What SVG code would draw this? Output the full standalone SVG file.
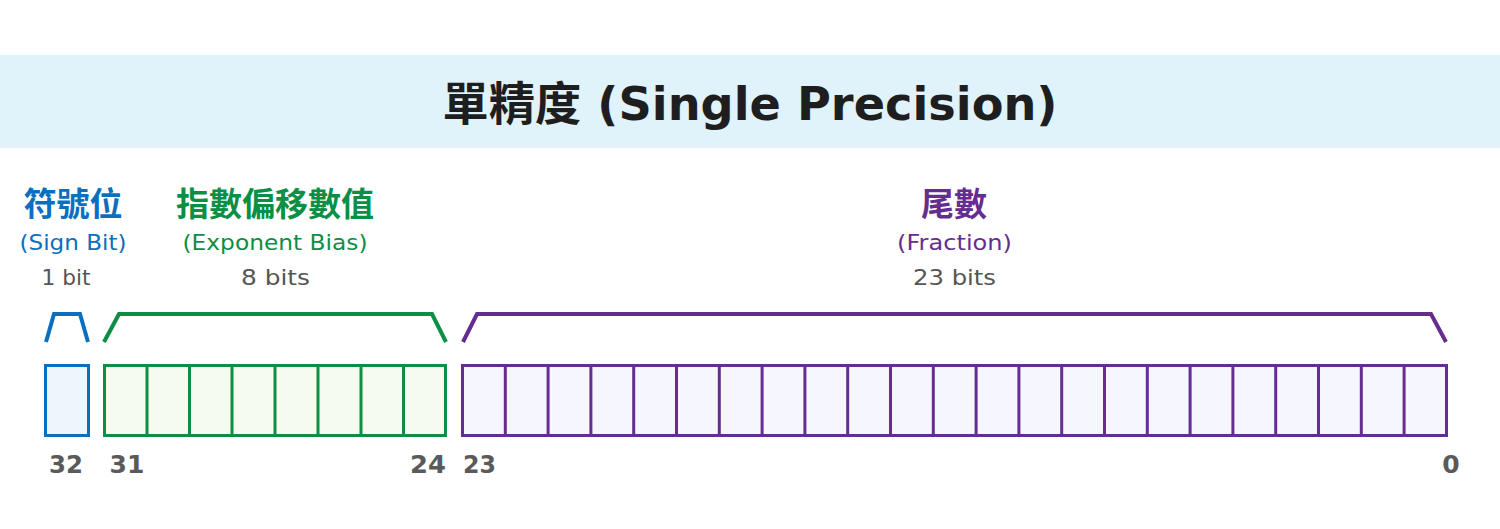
<svg xmlns="http://www.w3.org/2000/svg" width="1500" height="529" viewBox="0 0 1500 529">
<style>
text{font-family:"DejaVu Sans","Noto Sans CJK TC",sans-serif;text-anchor:middle}
.title{font-size:46px;font-weight:700;fill:#1e1e1e}
.zh{font-family:"Noto Sans CJK TC",sans-serif;font-size:33px;font-weight:700}
.en{font-size:21px}
.bits{font-size:21px;fill:#555}
.num{font-size:25px;font-weight:700;fill:#5a5a5a}
.blue{fill:#0b6fbf}.green{fill:#0a8f45}.purple{fill:#662d91}
.br{fill:none;stroke-width:4;stroke-linejoin:miter}
.cell{stroke-width:3}
</style>
<rect x="0" y="0" width="1500" height="529" fill="#fff"/>
<rect x="0" y="55" width="1500" height="93" fill="#e0f2fa"/>
<text class="title" x="750" y="120" textLength="615" lengthAdjust="spacingAndGlyphs">單精度 (Single Precision)</text>

<g id="sign">
<text class="zh blue" x="73" y="216">符號位</text>
<text class="en blue" x="73" y="250" textLength="107" lengthAdjust="spacingAndGlyphs">(Sign Bit)</text>
<text class="bits" x="66" y="285" textLength="49" lengthAdjust="spacingAndGlyphs">1 bit</text>
<rect x="45.5" y="365.5" width="43" height="70" fill="#eef6fd" stroke="#0b6fbf" class="cell"/>
<text class="num" x="66" y="473" textLength="34" lengthAdjust="spacingAndGlyphs">32</text>
</g>

<g id="exponent">
<text class="zh green" x="275" y="216">指數偏移數值</text>
<text class="en green" x="275" y="250" textLength="185" lengthAdjust="spacingAndGlyphs">(Exponent Bias)</text>
<text class="bits" x="275.5" y="285" textLength="69" lengthAdjust="spacingAndGlyphs">8 bits</text>
<rect x="104.5" y="365.5" width="341" height="70" fill="#f5fcef" stroke="#0a8f45" class="cell"/>
<path d="M147 365.5V435.5M189.5 365.5V435.5M232 365.5V435.5M275 365.5V435.5M318 365.5V435.5M361 365.5V435.5M403.5 365.5V435.5" stroke="#0a8f45" class="cell"/>
<text class="num" x="127" y="473">31</text>
<text class="num" x="428" y="473" textLength="36" lengthAdjust="spacingAndGlyphs">24</text>
</g>

<g id="fraction">
<text class="zh purple" x="954" y="216">尾數</text>
<text class="en purple" x="954.5" y="250" textLength="115" lengthAdjust="spacingAndGlyphs">(Fraction)</text>
<text class="bits" x="954.5" y="285" textLength="83" lengthAdjust="spacingAndGlyphs">23 bits</text>
<rect x="462.5" y="365.5" width="984" height="70" fill="#f6f7fe" stroke="#662d91" class="cell"/>
<path d="M505.3 365.5V435.5M548.1 365.5V435.5M590.9 365.5V435.5M633.7 365.5V435.5M676.5 365.5V435.5M719.3 365.5V435.5M762.1 365.5V435.5M804.9 365.5V435.5M847.7 365.5V435.5M890.5 365.5V435.5M933.3 365.5V435.5M976.1 365.5V435.5M1018.9 365.5V435.5M1061.7 365.5V435.5M1104.5 365.5V435.5M1147.3 365.5V435.5M1190.1 365.5V435.5M1232.9 365.5V435.5M1275.7 365.5V435.5M1318.5 365.5V435.5M1361.3 365.5V435.5M1404.1 365.5V435.5" stroke="#662d91" class="cell"/>
<text class="num" x="479.5" y="473" textLength="33" lengthAdjust="spacingAndGlyphs">23</text>
<text class="num" x="1451" y="473">0</text>
</g>

<g id="connectors">
<path class="br" stroke="#0b6fbf" d="M46 342L54 314H80L88 342"/>
<path class="br" stroke="#0a8f45" d="M104 342L119 314H432L446 342"/>
<path class="br" stroke="#662d91" d="M463 342L477 314H1431L1446 342"/>
</g>
</svg>
